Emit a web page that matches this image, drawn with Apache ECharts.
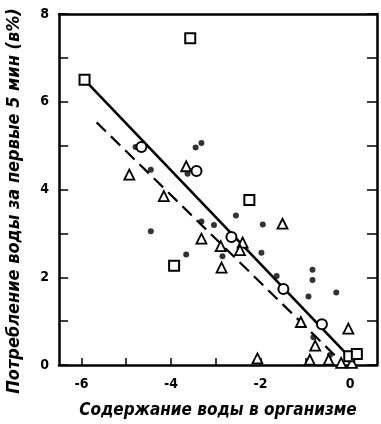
<!DOCTYPE html>
<html>
<head>
<meta charset="utf-8">
<script src="https://cdn.jsdelivr.net/npm/echarts@6/dist/echarts.min.js"></script>
<style>
html,body{margin:0;padding:0;background:#fff;}
#c{width:381px;height:424px;}
</style>
</head>
<body>
<div id="c"></div>
<script>
var xTicks = [-6, -5, -4, -3, -2, -1, 0];
var xLabels = [-6, -4, -2, 0];
var yLabels = [0, 2, 4, 6, 8];
var xTitle = 'Содержание воды в организме';
var yTitle = 'Потребление воды за первые 5 мин (в%)';

var squarePts = [[-5.93,6.5],[-3.57,7.45],[-3.93,2.26],[-2.25,3.76],[-0.02,0.2],[0.15,0.25]];
var circlePts = [[-4.66,4.97],[-3.43,4.42],[-2.65,2.92],[-1.49,1.73],[-0.63,0.93]];
var dotPts = [[-4.79,4.97],[-3.45,4.96],[-3.32,5.06],[-4.45,4.45],[-3.63,4.36],[-4.45,3.05],[-3.32,3.27],[-3.04,3.19],[-3.66,2.52],[-2.55,3.41],[-1.95,3.2],[-2.85,2.48],[-1.98,2.56],[-1.64,2.03],[-0.84,2.17],[-0.84,1.94],[-0.93,1.56],[-0.31,1.65],[-0.82,0.63],[-0.45,0.23]];
var trianglePts = [[-4.93,4.34],[-4.16,3.85],[-3.66,4.53],[-3.32,2.88],[-2.89,2.71],[-2.40,2.79],[-2.46,2.62],[-2.87,2.22],[-1.51,3.22],[-1.10,0.98],[-0.04,0.83],[-0.78,0.44],[-2.07,0.15],[-0.9,0.12],[-0.48,0.12],[-0.2,0.05],[0.04,0.05]];
var solidLine = [[-5.93,6.5],[-0.05,0.22]];
var dashedLine = [[-5.66,5.53],[-0.15,0.03]];

var FONT = '"DejaVu Sans Condensed","Liberation Sans Narrow",sans-serif';
var chart = echarts.init(document.getElementById('c'), null, {renderer:'canvas'});
var openStyle = {color:'#fff', borderColor:'#000', borderWidth:2, opacity:1};
var triStyle = {color:'#fff', borderColor:'#000', borderWidth:1.8, opacity:1};
chart.setOption({
  animation:false,
  backgroundColor:'#fff',
  grid:{left:59, right:4, top:14, bottom:58},
  graphic:[{
    type:'text', x:14, y:201, rotation:Math.PI/2,
    style:{text:yTitle, fontFamily:FONT, fontSize:18, fontWeight:'bold', fontStyle:'italic', fill:'#000', align:'center', verticalAlign:'middle'}
  }],
  xAxis:[{
    type:'value', min:-6.5, max:0.6, position:'bottom',
    name:xTitle, nameLocation:'middle', nameGap:37,
    nameTextStyle:{fontFamily:FONT, fontSize:17, fontWeight:'bold', fontStyle:'italic', color:'#000'},
    axisLine:{show:true, onZero:false, lineStyle:{color:'#000', width:2.5}},
    axisTick:{show:true, inside:true, length:7, customValues:xTicks, lineStyle:{color:'#000', width:1.5}},
    axisLabel:{show:true, customValues:xLabels, margin:12, fontFamily:FONT, fontSize:14, fontWeight:'bold', color:'#000'},
    splitLine:{show:false}
  },{
    type:'value', min:-6.5, max:0.6, position:'top',
    axisLine:{show:true, onZero:false, lineStyle:{color:'#000', width:2.5}},
    axisTick:{show:false}, axisLabel:{show:false}, splitLine:{show:false}
  }],
  yAxis:[{
    type:'value', min:0, max:8, interval:1, position:'left',
    axisLine:{show:true, onZero:false, lineStyle:{color:'#000', width:2.5}},
    axisTick:{show:true, inside:true, length:9, lineStyle:{color:'#000', width:1.5}},
    axisLabel:{show:true, customValues:yLabels, margin:10, fontFamily:FONT, fontSize:14, fontWeight:'bold', color:'#000'},
    splitLine:{show:false}
  },{
    type:'value', min:0, max:8, interval:1, position:'right',
    axisLine:{show:true, onZero:false, lineStyle:{color:'#000', width:2.5}},
    axisTick:{show:true, inside:true, length:10, lineStyle:{color:'#000', width:1.5}},
    axisLabel:{show:false}, splitLine:{show:false}
  }],
  series:[
    {type:'line', data:solidLine, symbol:'none', lineStyle:{color:'#000', width:2.6, type:'solid'}, z:2},
    {type:'line', data:dashedLine, symbol:'none', lineStyle:{color:'#000', width:2.2, type:[13,7]}, z:2},
    {type:'scatter', data:dotPts, symbol:'circle', symbolSize:6, itemStyle:{color:'#000'}, z:3},
    {type:'scatter', data:trianglePts, symbol:'triangle', symbolSize:10, itemStyle:triStyle, z:4},
    {type:'scatter', data:circlePts, symbol:'circle', symbolSize:10, itemStyle:openStyle, z:4},
    {type:'scatter', data:squarePts, symbol:'rect', symbolSize:10, itemStyle:openStyle, z:4}
  ]
});
</script>
</body>
</html>
